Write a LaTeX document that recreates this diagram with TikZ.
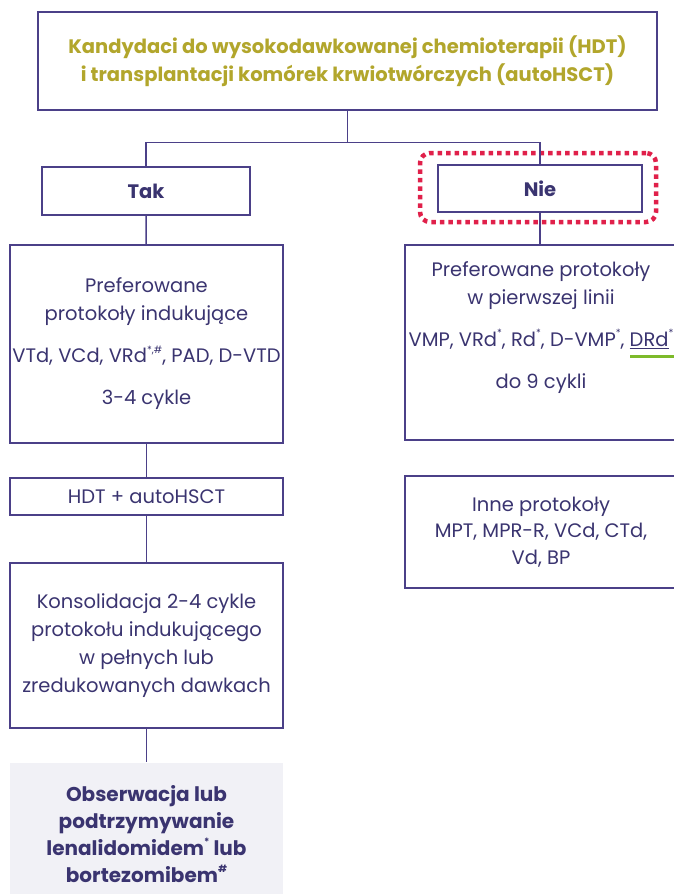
\documentclass[tikz,border=0pt]{standalone}
\usepackage{fontspec}
\setmainfont{Poppins}
\usetikzlibrary{positioning}
\definecolor{framec}{HTML}{4B4088}
\definecolor{textc}{HTML}{3A3470}
\definecolor{titlec}{HTML}{B2A62C}
\definecolor{highc}{HTML}{E0204A}
\definecolor{underc}{HTML}{7DBA2A}
\definecolor{greyfill}{HTML}{F1F1F6}
\newcommand{\supmark}[1]{\raisebox{0.5em}{\fontsize{10}{10}\selectfont #1}}
\tikzset{
  box/.style={draw=framec, line width=1.4pt, fill=white, text=textc,
    align=center, inner sep=0pt, font=\fontsize{19.5}{28}\selectfont},
  link/.style={draw=framec, line width=1.4pt},
  highlight/.style={draw=highc, line width=4.5pt, dash pattern=on 4.5pt off 4pt,
    rounded corners=10pt, inner sep=0pt},
}
\begin{document}
\begin{tikzpicture}[x=1pt,y=-1pt]
  \useasboundingbox (0,0) rectangle (673,894);
  % top question
  \node[box, minimum width=619pt, minimum height=98pt, text=titlec,
    font=\fontsize{19.5}{28}\selectfont\bfseries] (top) at (347.5,61)
    {Kandydaci do wysokodawkowanej chemioterapii (HDT)\\
     i transplantacji komórek krwiotwórczych (autoHSCT)};
  % answers
  \node[box, minimum width=208pt, minimum height=48pt, font=\fontsize{19.5}{28}\selectfont\bfseries]
    (tak) at (146,191) {Tak};
  \node[box, minimum width=204pt, minimum height=47pt, font=\fontsize{19.5}{28}\selectfont\bfseries]
    (nie) at (540,188.5) {Nie};
  \node[highlight, minimum width=236pt, minimum height=69pt] (niemark) at (538,187.5) {};
  % left branch
  \node[box, minimum width=273pt, minimum height=198pt] (induct) at (146.5,344)
    {Preferowane\\protokoły indukujące\\[14pt]
     VTd, VCd, VRd\supmark{*,\#}, PAD, D-VTD\\[14pt]3-4 cykle};
  \node[box, minimum width=273pt, minimum height=37pt] (hdt) at (146.5,496.5)
    {HDT + autoHSCT};
  \node[box, minimum width=273pt, minimum height=165pt] (consol) at (146.5,645.5)
    {Konsolidacja 2-4 cykle\\protokołu indukującego\\w pełnych lub\\zredukowanych dawkach};
  \node[box, draw=none, fill=greyfill, minimum width=273pt, minimum height=142pt,
    font=\fontsize{20}{27}\selectfont\bfseries] (maint) at (146.5,834)
    {Obserwacja lub\\podtrzymywanie\\lenalidomidem\supmark{*} lub\\bortezomibem\supmark{\#}};
  % right branch
  \node[box, minimum width=272pt, minimum height=195pt] (first) at (541,342.5)
    {Preferowane protokoły\\w pierwszej linii\\[14pt]
     VMP, VRd\supmark{*}, Rd\supmark{*}, D-VMP\supmark{*}, \underline{DRd}\supmark{*}\\[14pt]
     do 9 cykli\\[7pt]~};
  \node[box, minimum width=272pt, minimum height=112pt,
    font=\fontsize{19.5}{26.5}\selectfont] (other) at (541,532)
    {Inne protokoły\\MPT, MPR-R, VCd, CTd,\\Vd, BP};
  \fill[underc] (630,354.5) rectangle (676,357.5);
  % connectors
  \draw[link] (top.south) -- ++(0,32) coordinate (split);
  \draw[link] (tak.north) |- (split) -| (nie.north);
  \draw[link] (tak) -- (induct);
  \draw[link] (nie.south) -- (nie.south |- first.north);
  \draw[link] (induct) -- (hdt);
  \draw[link] (hdt) -- (consol);
  \draw[link] (consol) -- (maint);
\end{tikzpicture}
\end{document}
